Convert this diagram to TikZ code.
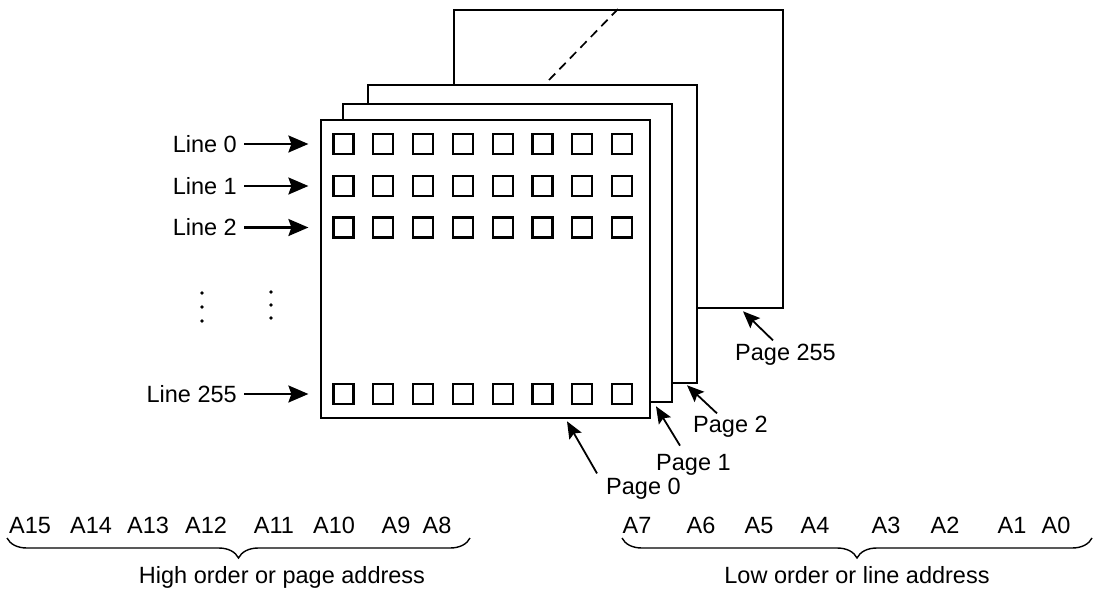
\documentclass[tikz,border=0pt]{standalone}
\usepackage{fontspec}
\setmainfont{Liberation Sans}
\usetikzlibrary{arrows.meta,decorations.pathreplacing,calc}
\begin{document}
\begin{tikzpicture}[x=1pt,y=-1pt,
  page/.style={draw,line width=2.3pt,fill=white,minimum width=329pt,minimum height=298pt,inner sep=0,anchor=north west},
  cell/.style={draw,line width=2.2pt,minimum size=20pt,inner sep=0},
  lbl/.style={font=\fontsize{23.5}{27}\selectfont,inner sep=0},
  arr/.style={line width=2.2pt,-{Stealth[length=20pt,width=17pt,inset=3pt]}},
  parr/.style={line width=1.8pt,-{Stealth[length=17pt,width=14pt,inset=3pt]}},
  brc/.style={decorate,decoration={brace,amplitude=20pt,mirror},line width=1.4pt}]
\useasboundingbox (0,0) rectangle (1112,594);

% stacked pages, back to front
\node[page] (p255) at (453,9) {};
\draw[line width=1.7pt,dash pattern=on 9pt off 6pt] (549,80) -- (618,9);
\node[page] (p2) at (367,84) {};
\node[page] (p1) at (342,103) {};
\node[page] (p0) at (320,119) {};

% memory cells and line labels
\foreach \r/\y in {0/144,1/186,2/227.5,255/394}{
  \foreach \c in {0,...,7}
    \node[cell] (c-\r-\c) at ({343.5+39.8*\c},\y) {};
  \node[lbl,anchor=east] (l\r) at (237,\y) {Line \r};
  \draw[arr,shorten <=7pt,shorten >=24pt] (l\r.east) -- (c-\r-0.west);
}

% vertical ellipses
\foreach \y in {293,307,321} \fill (202,\y) circle (1.9pt);
\foreach \y in {292,305,318} \fill (271,\y) circle (1.9pt);

% page labels
\node[lbl,anchor=base west] (t255) at (735,360) {Page 255};
\node[lbl,anchor=base west] (t2) at (693,432) {Page 2};
\node[lbl,anchor=base west] (t1) at (656,470) {Page 1};
\node[lbl,anchor=base west] (t0) at (606,494) {Page 0};
\draw[parr] ($(t255.north west)+(38,-3)$) -- ($(p255.south west)+(290,2)$);
\draw[parr] ($(t2.north west)+(24,-2)$) -- ($(p2.south west)+(320,1)$);
\draw[parr] ($(t1.north west)+(24,-8)$) -- ($(p1.south west)+(314,3)$);
\draw[parr] ($(t0.north west)+(-9,-4)$) -- ($(p0.south west)+(247,2)$);

% address bits
\foreach \n/\x in {15/30,14/91,13/148,12/206,11/274,10/334,9/396,8/437,
                   7/637,6/701,5/759,4/815,3/886,2/945,1/1012,0/1056}
  \node[lbl,anchor=base] (a\n) at (\x,533) {A\n};

\draw[brc] (7,538) -- (470,538);
\draw[brc] (622,538) -- (1092,538);
\node[lbl,anchor=base] (hi) at (282,583) {High order or page address};
\node[lbl,anchor=base] (lo) at (857,583) {Low order or line address};
\end{tikzpicture}
\end{document}
